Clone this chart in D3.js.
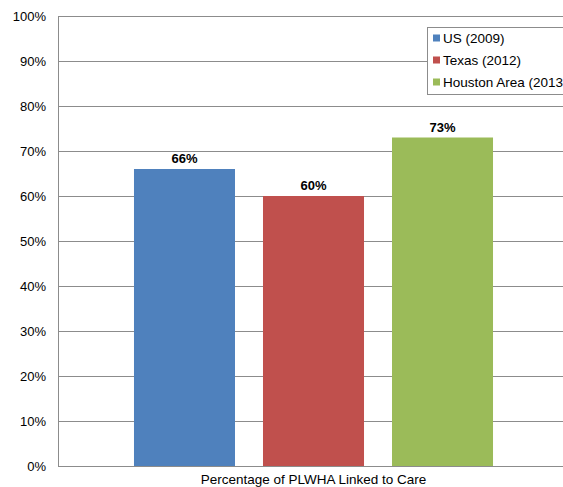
<!DOCTYPE html>
<html>
<head>
<meta charset="utf-8">
<script src="https://cdn.jsdelivr.net/npm/d3@7"></script>
<style>
  body { margin: 0; background: #fff; overflow: hidden; }
  text { font-family: "Liberation Sans", Arial, sans-serif; fill: #000; }
</style>
</head>
<body>
<div id="chart"></div>
<script>
// chart data
const seriesNames = ["US (2009)", "Texas (2012)", "Houston Area (2013"];
const seriesValues = [66, 60, 73];
const seriesColors = ["#4F81BD", "#C0504D", "#9BBB59"];
const yTicks = [0, 10, 20, 30, 40, 50, 60, 70, 80, 90, 100];
const categoryLabel = "Percentage of PLWHA Linked to Care";

const width = 563, height = 487;
const margin = {top: 16, right: -6, bottom: 21, left: 58};

const svg = d3.select("#chart").append("svg")
    .attr("width", width)
    .attr("height", height);

const plotW = width - margin.left - margin.right;
const plotH = height - margin.top - margin.bottom;

const g = svg.append("g")
    .attr("transform", `translate(${margin.left},${margin.top})`);

// scales
const y = d3.scaleLinear().domain([0, 100]).range([plotH, 0]);
const x = d3.scaleBand()
    .domain(seriesNames)
    .range([0, plotW])
    .paddingInner(0.217)
    .paddingOuter(0.589);

// gridlines
g.append("g").selectAll("line")
    .data(yTicks)
    .join("line")
    .attr("x1", 0).attr("x2", plotW)
    .attr("y1", d => Math.round(y(d)) + 0.5)
    .attr("y2", d => Math.round(y(d)) + 0.5)
    .attr("stroke", "#8c8c8c")
    .attr("stroke-width", 1);

// left axis line
g.append("line")
    .attr("x1", 0.5).attr("x2", 0.5)
    .attr("y1", 0).attr("y2", plotH)
    .attr("stroke", "#8c8c8c");

// y tick labels
g.append("g").selectAll("text")
    .data(yTicks)
    .join("text")
    .attr("x", -12)
    .attr("y", d => y(d))
    .attr("dy", "0.35em")
    .attr("text-anchor", "end")
    .style("font-size", "13px")
    .text(d => d + "%");

// bars
g.append("g").selectAll("rect")
    .data(seriesNames)
    .join("rect")
    .attr("x", d => x(d))
    .attr("width", x.bandwidth())
    .attr("y", (d, i) => y(seriesValues[i]))
    .attr("height", (d, i) => plotH - y(seriesValues[i]))
    .attr("fill", (d, i) => seriesColors[i]);

// value labels
g.append("g").selectAll("text")
    .data(seriesNames)
    .join("text")
    .attr("x", d => x(d) + x.bandwidth() / 2)
    .attr("y", (d, i) => y(seriesValues[i]) - 6)
    .attr("text-anchor", "middle")
    .style("font-size", "13px")
    .style("font-weight", "bold")
    .text((d, i) => seriesValues[i] + "%");

// baseline on top of bars
g.append("line")
    .attr("x1", 0).attr("x2", plotW)
    .attr("y1", plotH + 0.5).attr("y2", plotH + 0.5)
    .attr("stroke", "#8c8c8c");

// category label
svg.append("text")
    .attr("x", margin.left + plotW / 2)
    .attr("y", 484)
    .attr("text-anchor", "middle")
    .style("font-size", "13.5px")
    .text(categoryLabel);

// legend
const legend = svg.append("g").attr("transform", "translate(427,27)");
legend.append("rect")
    .attr("x", 0.5).attr("y", 0.5)
    .attr("width", 150).attr("height", 67)
    .attr("fill", "#fff")
    .attr("stroke", "#8c8c8c");

const items = legend.selectAll("g.item")
    .data(seriesNames)
    .join("g")
    .attr("class", "item")
    .attr("transform", (d, i) => `translate(6,${11 + i * 22})`);

items.append("rect")
    .attr("x", 0).attr("y", -3.5)
    .attr("width", 7).attr("height", 7)
    .attr("fill", (d, i) => seriesColors[i]);

items.append("text")
    .attr("x", 10)
    .attr("dy", "0.35em")
    .style("font-size", "13.5px")
    .text(d => d);
</script>
</body>
</html>
